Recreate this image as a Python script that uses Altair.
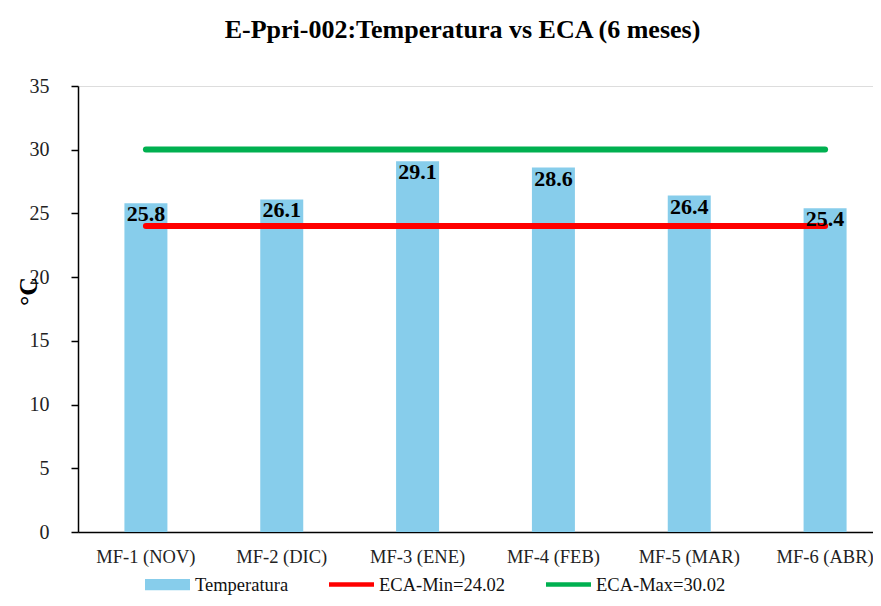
import altair as alt
import pandas as pd

categorias = ["MF-1 (NOV)", "MF-2 (DIC)", "MF-3 (ENE)", "MF-4 (FEB)", "MF-5 (MAR)", "MF-6 (ABR)"]
temperatura = [25.8, 26.1, 29.1, 28.6, 26.4, 25.4]
eca_min = 24.02
eca_max = 30.02
series = ["Temperatura", "ECA-Min=24.02", "ECA-Max=30.02"]
colores = ["#87CDEB", "#FF0000", "#00B050"]

FONT = "Liberation Serif"

df_bar = pd.DataFrame({"cat": categorias, "temp": temperatura})
df_min = pd.DataFrame({"cat": categorias, "v": [eca_min] * len(categorias)})
df_max = pd.DataFrame({"cat": categorias, "v": [eca_max] * len(categorias)})
df_leg = pd.DataFrame({"serie": series})

x_enc = alt.X("cat:N", sort=categorias, title=None,
              scale=alt.Scale(range=[0, 815], paddingInner=0, paddingOuter=0),
              axis=alt.Axis(labelAngle=0, labelFont=FONT, labelFontSize=18.5,
                            labelColor="#222222", ticks=False, domainColor="#000000",
                            domainWidth=1.5, labelPadding=15, labelBaseline="top"))
y_scale = alt.Scale(domain=[0, 35], nice=False)

bars = alt.Chart(df_bar).mark_bar(size=43, color="#87CDEB").encode(
    x=x_enc,
    y=alt.Y("temp:Q", scale=y_scale, title="°C",
            axis=alt.Axis(values=[0, 5, 10, 15, 20, 25, 30, 35], grid=False,
                          labelFont=FONT, labelFontSize=20, labelColor="#222222",
                          tickColor="#000000", tickSize=7, tickWidth=1.5,
                          domainColor="#000000", domainWidth=1.5, labelPadding=22,
                          titleFont=FONT, titleFontSize=26, titleFontWeight="bold",
                          titleColor="#000000", titleAngle=270, titleX=-50, titleY=205,
                          titleBaseline="middle", titleAlign="center")),
)

labels = alt.Chart(df_bar).mark_text(font=FONT, fontSize=22, fontWeight="bold",
                                     color="#000000", baseline="middle", dy=11).encode(
    x=alt.X("cat:N", sort=categorias),
    y=alt.Y("temp:Q", scale=y_scale),
    text=alt.Text("temp:Q", format=".1f"),
)

line_min = alt.Chart(df_min).mark_line(color="#FF0000", strokeWidth=6, strokeCap="round").encode(
    x=alt.X("cat:N", sort=categorias),
    y=alt.Y("v:Q", scale=y_scale),
)
line_max = alt.Chart(df_max).mark_line(color="#00B050", strokeWidth=6, strokeCap="round").encode(
    x=alt.X("cat:N", sort=categorias),
    y=alt.Y("v:Q", scale=y_scale),
)

rect_path = "M-1,-0.25H1V0.25H-1Z"
line_path = "M-1,-0.1H1V0.1H-1Z"

# carrier layer for the legend (points placed outside the clipped view)
legend_layer = alt.Chart(df_leg).mark_point(filled=True, opacity=1, clip=True).encode(
    x=alt.value(-500), y=alt.value(-500),
    color=alt.Color("serie:N", sort=series,
                    scale=alt.Scale(domain=series, range=colores),
                    legend=alt.Legend(title=None, orient="none", direction="horizontal",
                                      legendX=67, legendY=476, symbolSize=2025,
                                      symbolOpacity=1, symbolStrokeWidth=0,
                                      labelFont=FONT, labelFontSize=18.5, labelColor="#111111",
                                      labelOffset=5, columnPadding=40, padding=0,
                                      labelLimit=300)),
    shape=alt.Shape("serie:N", sort=series,
                    scale=alt.Scale(domain=series, range=[rect_path, line_path, line_path])),
)

chart = alt.layer(bars, line_min, line_max, labels, legend_layer).properties(
    width=795, height=446,
    title=alt.TitleParams("E-Ppri-002:Temperatura vs ECA (6 meses)", font=FONT,
                          fontSize=26, fontWeight="bold", color="#000000",
                          anchor="middle", dx=-13, offset=12, baseline="alphabetic"),
    autosize=alt.AutoSizeParams(type="none"),
    padding={"left": 70, "top": 78, "right": 0, "bottom": 66},
).configure_view(stroke=None).configure(background="white")

chart.save("out.html", embed_options={"renderer": "svg", "actions": False})
